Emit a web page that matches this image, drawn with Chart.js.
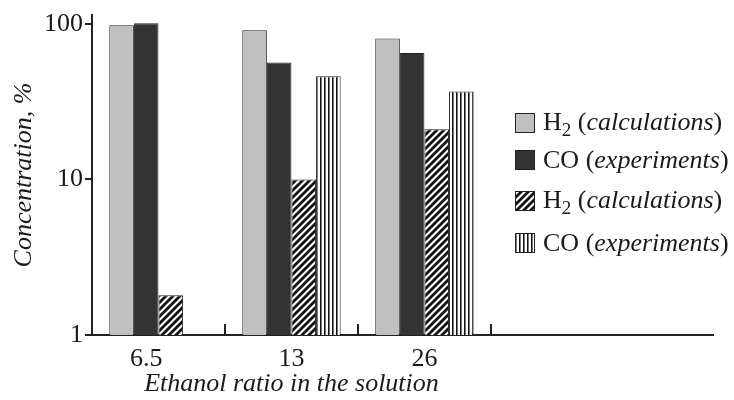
<!DOCTYPE html>
<html>
<head>
<meta charset="utf-8">
<script src="https://cdn.jsdelivr.net/npm/chart.js@4"></script>
<style>
html,body{margin:0;padding:0;background:#fff;}
#wrap{position:relative;width:734px;height:400px;overflow:hidden;}
#c{position:absolute;left:0;top:0;}
#legend{position:absolute;left:515px;top:0;font-family:'Liberation Serif','Times New Roman',serif;font-size:26px;color:#1a1a1a;}
.row{position:absolute;left:0;height:30px;line-height:30px;white-space:nowrap;display:flex;align-items:center;}
.sw{width:20px;height:20px;display:block;margin-right:8px;}
.sub{font-size:19px;position:relative;top:6px;}
.it{font-style:italic;}
</style>
</head>
<body>
<div id="wrap">
<canvas id="c" width="734" height="400"></canvas>
<div id="legend"></div>
</div>
<script>
// ---- data ----
const categories = ['6.5', '13', '26'];
const h2Calc      = [98, 91, 80.5];     // light grey bars
const coExp       = [101, 56.5, 65];    // dark bars
const h2CalcHatch = [1.8, 10, 21];      // diagonal hatched bars
const coExpStripe = [null, 46, 36.8];   // vertical striped bars
const yTicks = [1, 10, 100];
const yTickLabels = ['1', '10', '100'];
const xTitle = 'Ethanol ratio in the solution';
const yTitle = 'Concentration, %';
const legendMain = ['H', 'CO', 'H', 'CO'];
const legendSub = ['2', '', '2', ''];
const legendNote = ['calculations', 'experiments', 'calculations', 'experiments'];

// ---- styling ----
const FONT = "'Liberation Serif', 'Times New Roman', serif";
const TEXT = '#1a1a1a';
const AXIS = '#222';
const XMAX = 4.67;
const CAT_PCT = 0.74;

function hatchPattern() {
  const s = 7;
  const c = document.createElement('canvas');
  c.width = s; c.height = s;
  const g = c.getContext('2d');
  g.fillStyle = '#fff'; g.fillRect(0, 0, s, s);
  g.strokeStyle = '#111'; g.lineWidth = 2.8; g.lineCap = 'square';
  g.beginPath();
  for (const k of [-s, 0, s]) { g.moveTo(k - 1, s + 1); g.lineTo(k + s + 1, -1); }
  g.stroke();
  return c;
}
function stripePattern() {
  const c = document.createElement('canvas');
  c.width = 4; c.height = 4;
  const g = c.getContext('2d');
  g.fillStyle = '#fff'; g.fillRect(0, 0, 4, 4);
  g.fillStyle = '#111'; g.fillRect(0, 0, 1, 4);
  g.fillStyle = '#777'; g.fillRect(1, 0, 1, 4);
  return c;
}
const ctx = document.getElementById('c').getContext('2d');
const hatchTile = hatchPattern();
const stripeTile = stripePattern();
const fills = ['#c0c0c0', '#333333', ctx.createPattern(hatchTile, 'repeat'), ctx.createPattern(stripeTile, 'repeat')];
const series = [h2Calc, coExp, h2CalcHatch, coExpStripe];

const datasets = series.map((vals, k) => ({
  label: legendMain[k] + legendSub[k] + ' (' + legendNote[k] + ')',
  data: vals.map((v, i) => ({ x: i + 0.5, y: v })),
  backgroundColor: fills[k],
  borderColor: '#222',
  borderWidth: 1,
  categoryPercentage: CAT_PCT,
  barPercentage: 1.0
}));

// label position: centre of the bars actually present in each group
function tickPos(i) {
  const n = series.length;
  const present = series.filter(s => s[i] !== null && s[i] !== undefined).length;
  const barW = CAT_PCT / n;
  return i + 0.5 - (n - present) / 2 * barW;
}

const extras = {
  id: 'extras',
  afterDraw(chart) {
    const c = chart.ctx, x = chart.scales.x, y = chart.scales.y;
    c.save();
    // inward boundary ticks between groups
    c.strokeStyle = AXIS; c.lineWidth = 2;
    for (let i = 1; i <= categories.length; i++) {
      const px = Math.round(x.getPixelForValue(i));
      c.beginPath(); c.moveTo(px, y.bottom); c.lineTo(px, y.bottom - 11); c.stroke();
    }
    // x title centred on the category groups
    c.fillStyle = TEXT;
    c.font = 'italic 26px ' + FONT;
    c.textAlign = 'center'; c.textBaseline = 'alphabetic';
    const cx = (x.getPixelForValue(0) + x.getPixelForValue(categories.length)) / 2;
    c.fillText(xTitle, cx, 391);
    c.restore();
  }
};

new Chart(ctx, {
  type: 'bar',
  data: { datasets },
  plugins: [extras],
  options: {
    responsive: false,
    animation: false,
    events: [],
    layout: { padding: { top: 14, right: 21, left: 0, bottom: 0 } },
    plugins: { legend: { display: false }, tooltip: { enabled: false } },
    scales: {
      x: {
        type: 'linear', min: 0, max: XMAX, offset: false,
        afterBuildTicks: s => { s.ticks = categories.map((c, i) => ({ value: tickPos(i) })); },
        afterFit: s => { s.height = 65; },
        ticks: {
          callback: (v, i) => categories[i],
          font: { family: FONT, size: 26, lineHeight: 1 },
          color: TEXT, padding: 3, autoSkip: false, maxRotation: 0
        },
        grid: { display: false },
        border: { display: true, width: 2, color: AXIS }
      },
      y: {
        type: 'logarithmic', min: 1, max: 114,
        afterBuildTicks: s => { s.ticks = yTicks.map(v => ({ value: v, major: true })); },
        afterFit: s => { s.width = 92; },
        ticks: {
          callback: (v, i) => yTickLabels[i],
          font: { family: FONT, size: 26, lineHeight: 1 },
          color: TEXT, padding: 2, autoSkip: false
        },
        grid: { display: true, drawOnChartArea: false, drawTicks: true, tickLength: 7, lineWidth: 2, color: AXIS },
        border: { display: true, width: 2, color: AXIS },
        title: {
          display: true, text: yTitle, color: TEXT,
          font: { family: FONT, size: 26, style: 'italic' },
          padding: { top: 8.6, bottom: 0 }
        }
      }
    }
  }
});

// ---- legend (HTML, mixed upright / subscript / italic text) ----
const legendCenters = [123, 160, 201, 243];
const legend = document.getElementById('legend');
series.forEach((s, k) => {
  const row = document.createElement('div');
  row.className = 'row';
  row.style.top = (legendCenters[k] - 15) + 'px';
  const sw = document.createElement('canvas');
  sw.className = 'sw'; sw.width = 20; sw.height = 20;
  const g = sw.getContext('2d');
  g.fillStyle = (k < 2) ? fills[k] : g.createPattern(k === 2 ? hatchTile : stripeTile, 'repeat');
  g.fillRect(0, 0, 20, 20);
  g.strokeStyle = '#222'; g.lineWidth = 1; g.strokeRect(0.5, 0.5, 19, 19);
  row.appendChild(sw);
  const t = document.createElement('span');
  t.appendChild(document.createTextNode(legendMain[k]));
  if (legendSub[k]) {
    const sb = document.createElement('span'); sb.className = 'sub'; sb.textContent = legendSub[k];
    t.appendChild(sb);
  }
  t.appendChild(document.createTextNode(' ('));
  const it = document.createElement('span'); it.className = 'it'; it.textContent = legendNote[k];
  t.appendChild(it);
  t.appendChild(document.createTextNode(')'));
  row.appendChild(t);
  legend.appendChild(row);
});
</script>
</body>
</html>
